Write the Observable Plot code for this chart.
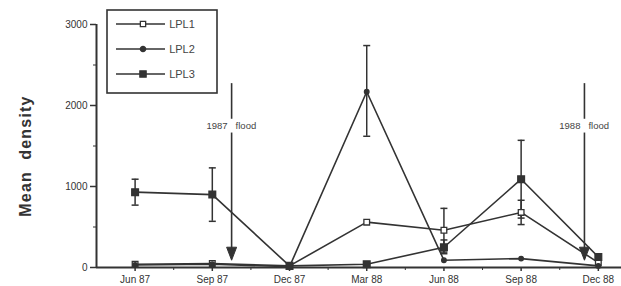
<!DOCTYPE html>
<html><head><meta charset="utf-8">
<script src="https://cdn.jsdelivr.net/npm/d3@7"></script>
<script src="https://cdn.jsdelivr.net/npm/@observablehq/plot@0.6"></script>
<style>body{margin:0;background:#fff}#c{position:relative;width:621px;height:286px}</style>
</head><body><div id="c"></div>
<script>
const labels = ["Jun 87","Sep 87","Dec 87","Mar 88","Jun 88","Sep 88","Dec 88"];
const lpl1 = [40, 50, 20, 560, 460, 680, 60];
const lpl2 = [30, 40, 10, 2170, 90, 110, 20];
const lpl3 = [930, 900, 20, 40, 250, 1090, 130];
// error bars: [sample index, low, high]
const err1 = [[4, 190, 730], [5, 530, 830]];
const err2 = [[3, 1620, 2740]];
const err3 = [[0, 770, 1090], [1, 570, 1230], [4, 170, 340], [5, 610, 1570]];
const floods = [{label: "1987", x: 1.25}, {label: "1988", x: 5.82}];
const yMajor = [0, 1000, 2000, 3000];
const yMinor = [500, 1500, 2500];
const xMinor = [0.5, 1.5, 2.5, 3.5, 4.5, 5.5];

const ink = "#333";
const series = [
  {name: "LPL1", values: lpl1, err: err1, symbol: "square", fill: "white", r: 3.2},
  {name: "LPL2", values: lpl2, err: err2, symbol: "circle", fill: ink, r: 2.3},
  {name: "LPL3", values: lpl3, err: err3, symbol: "square", fill: ink, r: 3.8}
];
const pts = series.flatMap(s => s.values.map((v, i) => ({s: s.name, i, v})));
const errs = series.flatMap(s => s.err.map(([i, lo, hi]) => ({s: s.name, i, lo, hi})));
const capSym = {draw(ctx) { const w = 3.5; ctx.moveTo(-w, 0); ctx.lineTo(w, 0); }};
const headSym = {draw(ctx) { ctx.moveTo(-5, -13); ctx.lineTo(5, -13); ctx.lineTo(0, 0); ctx.closePath(); }};

const marks = [
  Plot.axisY(yMajor, {tickSize: 6, tickPadding: 3, tickFormat: d => String(d), fontSize: 10, fill: "#333", stroke: ink, strokeWidth: 1.5, label: null}),
  Plot.axisY(yMinor, {tickSize: 3, tickFormat: () => "", stroke: ink, label: null}),
  Plot.axisX(d3.range(labels.length), {tickSize: 4, tickPadding: 4, tickFormat: i => labels[i], fontSize: 10, fill: "#333", stroke: ink, strokeWidth: 1.5, label: null}),
  Plot.axisX(xMinor, {tickSize: 3, tickFormat: () => "", stroke: ink, label: null}),
  Plot.ruleY([0], {stroke: ink, strokeWidth: 2}),
  Plot.ruleX([-0.5], {y1: 0, y2: 3000, stroke: ink, strokeWidth: 2}),
  Plot.ruleX(errs, {x: "i", y1: "lo", y2: "hi", stroke: ink, strokeWidth: 1.5}),
  Plot.dot(errs, {x: "i", y: "lo", symbol: capSym, stroke: ink, strokeWidth: 1.5, fill: "none"}),
  Plot.dot(errs, {x: "i", y: "hi", symbol: capSym, stroke: ink, strokeWidth: 1.5, fill: "none"}),
  ...series.map(s => Plot.line(pts.filter(d => d.s === s.name), {x: "i", y: "v", stroke: ink, strokeWidth: 1.6})),
  ...series.map(s => Plot.dot(pts.filter(d => d.s === s.name), {x: "i", y: "v", symbol: s.symbol, r: s.r, fill: s.fill, stroke: ink, strokeWidth: 1.3})),
  // flood annotations
  Plot.ruleX(floods, {x: "x", y1: 2270, y2: 1830, stroke: ink, strokeWidth: 1.6}),
  Plot.ruleX(floods, {x: "x", y1: 1660, y2: 200, stroke: ink, strokeWidth: 1.6}),
  Plot.dot(floods, {x: "x", y: 90, symbol: headSym, fill: ink, stroke: ink, strokeWidth: 1}),
  Plot.text(floods, {x: "x", y: 1745, text: "label", textAnchor: "end", dx: -4, fontSize: 9.5, fill: "#444"}),
  Plot.text(floods, {x: "x", y: 1745, text: () => "flood", textAnchor: "start", dx: 4, fontSize: 9.5, fill: "#444"})
];

const chart = Plot.plot({
  width: 621, height: 286,
  marginLeft: 96, marginRight: 0, marginTop: 24, marginBottom: 19,
  style: {fontFamily: "'Liberation Sans', Arial, sans-serif", background: "#fff"},
  x: {type: "linear", domain: [-0.5, 6.3]},
  y: {domain: [0, 3000]},
  marks
});
document.getElementById("c").appendChild(chart);

// y label and legend
const svg = d3.select(chart);
svg.append("text").attr("transform", "translate(31,156) rotate(-90)")
  .attr("text-anchor", "middle").attr("font-size", 16).attr("font-weight", "bold")
  .attr("letter-spacing", "1.2px").attr("fill", "#333").attr("style", "white-space:pre").text("Mean  density");
const lg = svg.append("g");
lg.append("rect").attr("x", 107).attr("y", 10).attr("width", 110).attr("height", 83)
  .attr("fill", "#fff").attr("stroke", ink).attr("stroke-width", 1.6);
series.forEach((s, k) => {
  const y = 24 + k * 25;
  lg.append("line").attr("x1", 116).attr("x2", 165).attr("y1", y).attr("y2", y).attr("stroke", ink).attr("stroke-width", 1.6);
  lg.append("path").attr("transform", `translate(143,${y})`)
    .attr("d", d3.symbol(s.symbol === "square" ? d3.symbolSquare : d3.symbolCircle, (s.r * 1.25) ** 2 * Math.PI / (s.symbol === "square" ? 1.8 : 1.2))())
    .attr("fill", s.fill).attr("stroke", ink).attr("stroke-width", 1.3);
  lg.append("text").attr("x", 182).attr("y", y).attr("dy", "0.35em").attr("font-size", 11)
    .attr("fill", "#444").text(s.name);
});
</script></body></html>
